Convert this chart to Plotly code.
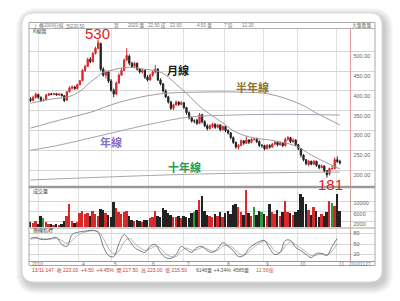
import plotly.graph_objects as go

W, H = 400, 301
def X(px): return px / W
def Y(py): return 1 - py / H

# ---------------- data ----------------
opens = [380,376,383,391,384,377,378,389,393,391,393,390,392,388,377,398,407,410,406,416,
         426,452,462,480,474,495,508,520,455,440,448,425,402,392,420,440,452,478,488,470,
         462,470,455,448,452,435,428,440,448,455,428,418,400,385,372,356,365,372,366,370,
         358,345,332,324,326,318,340,322,312,305,310,316,308,314,302,310,300,294,282,270,
         258,262,274,268,276,270,278,278,272,262,262,254,262,258,266,270,264,268,262,278,
         282,272,276,264,254,238,226,214,222,215,222,212,206,210,198,190,204,204,226,222]
highs = [384,388,396,393,386,381,392,395,394,395,394,394,393,389,400,412,414,413,418,428,
         455,466,484,486,498,512,530,522,460,452,450,430,406,424,444,458,482,508,492,474,
         474,472,458,456,454,440,444,452,466,458,432,420,404,388,375,368,376,374,374,372,
         360,348,336,328,330,344,342,326,316,316,320,318,317,316,312,312,303,296,285,272,
         266,278,276,286,278,280,282,282,275,266,264,266,265,268,273,272,272,270,282,286,
         284,280,278,266,256,240,228,226,224,226,224,214,214,212,200,206,212,232,234,226]
lows = [372,374,381,380,372,373,377,387,389,389,388,388,386,372,375,396,404,403,404,414,
        424,448,460,470,472,492,505,450,436,432,420,398,384,390,418,438,450,475,465,458,
        460,452,444,444,430,424,426,436,444,425,414,396,382,368,352,352,362,362,364,354,
        340,328,320,318,314,316,318,308,300,302,306,304,305,298,300,296,290,278,266,254,
        252,260,264,266,266,268,274,268,258,256,250,252,254,256,262,260,262,258,260,274,
        268,268,260,250,232,222,212,210,212,212,208,202,204,194,181,186,200,202,218,214]
closes = [376,384,392,384,375,377,390,393,391,393,390,392,388,376,398,408,410,406,416,426,
          452,462,480,474,495,508,522,455,440,448,425,402,392,420,440,452,478,490,470,462,
          470,455,448,452,435,428,440,448,455,428,418,400,385,372,356,365,372,366,370,358,
          345,332,324,324,318,340,322,312,305,312,316,308,314,302,310,300,294,282,270,258,
          262,274,268,276,270,278,278,272,262,262,254,262,258,266,270,264,268,262,278,282,
          272,276,264,254,238,226,216,222,215,222,212,206,210,198,188,204,204,226,222,218]
volumes = [2000,1800,2600,1500,4600,3600,2200,1500,1200,1000,1300,1100,1500,2700,4300,9300,2600,1600,2200,5600,
           6500,5300,5800,4300,6500,5200,4500,7300,7000,5800,5000,4200,10000,7500,6000,5200,6000,6400,4400,3000,
           2600,2800,2400,2200,3000,2800,3600,4000,6400,4600,4000,7500,6800,5500,5000,4200,4000,4600,3800,4400,
           4200,3600,5500,6200,6800,10800,12200,6500,5000,4300,4000,5200,4600,6000,4200,5800,6300,5400,8600,9000,
           8000,6000,4800,14500,5500,4500,7800,4800,6500,6000,5200,4500,9000,6000,5200,7000,4400,6200,10400,6000,
           5600,4800,6000,7000,13000,11700,9100,7000,5000,7800,6400,4000,5300,4600,6000,10400,9600,8400,13000,6400]

ma20_x = [0, 6, 11, 14, 19, 23, 26, 28, 31, 34, 38, 44, 49, 52, 56, 60, 66, 74, 79, 86, 92, 102, 108, 114, 119]
ma20 = [369, 377, 382, 384, 399, 422, 437, 447, 452, 457, 460, 455, 450, 440, 417, 394, 356, 319, 296, 281, 276, 261, 238, 218, 203]
ma120_x = [0, 11, 23, 34, 49, 65, 81, 92, 104, 110, 119]
ma120 = [306, 326, 346, 371, 392, 397, 397, 392, 366, 344, 314]
ma240_x = [0, 11, 23, 34, 46, 61, 77, 96, 119]
ma240 = [250, 263, 281, 298, 316, 334, 339, 341, 339]
ma10y_x = [0, 65, 119]
ma10y = [175, 190, 195]

kd_x = list(range(0, 120, 2))
k_vals = [66,69,63,63,66,69,49,43,77,83,86,88,89,83,43,17,14,51,77,60,
          40,31,26,43,49,26,11,9,20,43,34,26,40,43,31,26,37,54,43,31,
          14,17,37,49,57,60,37,20,26,60,60,40,31,20,11,23,23,17,43,66]
d_vals = [64,66,66,64,64,66,60,52,60,74,82,86,88,86,66,38,22,30,56,66,
          52,40,32,36,44,38,22,14,14,30,38,32,34,40,36,30,32,44,46,38,
          24,18,28,42,52,58,48,30,26,44,56,48,38,27,17,18,22,20,30,52]

price_ticks = [200, 250, 300, 350, 400, 450, 500]
vol_ticks = [2000, 6000, 10000]
kd_ticks = [20, 50, 80]
month_pos = [3, 18.5, 31, 45.5, 59, 74.5, 89.5, 102.5, 117.5]
x_label_pos = [-0.5, 18.5, 31, 45.5, 59, 74.5, 89.5, 102.5, 117.5]
x_labels = ["2010", "4", "5", "6", "7", "8", "9", "10", "11"]

peak_label, low_label = "530", "181"

# ---------------- styles ----------------
RED = "#d8282a"
BLK = "#222222"
GRN = "#2f9a3c"
idx = list(range(len(closes)))

vol_colors = [RED if c > o else (GRN if c == o else BLK) for o, c in zip(opens, closes)]

fig = go.Figure()
fig.add_trace(go.Candlestick(
    x=idx, open=opens, high=highs, low=lows, close=closes,
    increasing=dict(line=dict(color=RED, width=1), fillcolor=RED),
    decreasing=dict(line=dict(color=BLK, width=1), fillcolor=BLK),
    whiskerwidth=0, showlegend=False, hoverinfo="skip", xaxis="x", yaxis="y"))

for xs, ys, col in [(ma20_x, ma20, "#9a9a9a"), (ma120_x, ma120, "#a89a9a"),
                    (ma240_x, ma240, "#a8a0b4"), (ma10y_x, ma10y, "#a8a8a8")]:
    fig.add_trace(go.Scatter(x=xs, y=ys, mode="lines", line=dict(color=col, width=1, shape="spline"),
                             showlegend=False, hoverinfo="skip", xaxis="x", yaxis="y"))

fig.add_trace(go.Bar(x=idx, y=volumes, marker=dict(color=vol_colors, line=dict(width=0)),
                     width=0.72, showlegend=False, hoverinfo="skip", xaxis="x2", yaxis="y2"))

fig.add_trace(go.Scatter(x=kd_x, y=d_vals, mode="lines", line=dict(color="#a0a0a0", width=0.8, shape="spline"),
                         showlegend=False, hoverinfo="skip", xaxis="x3", yaxis="y3"))
fig.add_trace(go.Scatter(x=kd_x, y=k_vals, mode="lines", line=dict(color="#5a5a5a", width=0.8, shape="spline"),
                         showlegend=False, hoverinfo="skip", xaxis="x3", yaxis="y3"))

xcommon = dict(domain=[X(29), X(375)], range=[-0.58, 132.5], showticklabels=False,
               tickvals=month_pos, showgrid=True, gridcolor="#e0e0e0", gridwidth=1,
               zeroline=False, showline=False, ticks="", fixedrange=True)
tickfont = dict(family="Liberation Sans", size=5.5, color="#666")
ycommon = dict(side="right", anchor="free", position=X(350.5), showgrid=True, gridcolor="#d6d6d6",
               gridwidth=1, zeroline=False, showline=False, ticks="", tickfont=tickfont,
               ticklabelstandoff=2, fixedrange=True)

fig.update_layout(
    width=W, height=H, margin=dict(l=0, r=0, t=0, b=0),
    paper_bgcolor="white", plot_bgcolor="rgba(0,0,0,0)",
    showlegend=False, bargap=0,
    xaxis=dict(**xcommon, anchor="y", rangeslider=dict(visible=False)),
    xaxis2=dict(**xcommon, anchor="y2", matches="x"),
    xaxis3=dict(**xcommon, anchor="y3", matches="x"),
    yaxis=dict(**ycommon, domain=[Y(186), Y(28.5)], range=[159.7, 557.9],
               tickvals=price_ticks, tickformat=".2f", ticklabelshift=5),
    yaxis2=dict(**ycommon, domain=[Y(227), Y(188.5)], range=[0, 15000],
                tickvals=vol_ticks, tickformat="d", ticklabelshift=2),
    yaxis3=dict(**ycommon, domain=[Y(261.5), Y(228.5)], range=[0, 94.3],
                tickvals=kd_ticks, tickformat="d"),
)

# ---------------- card, shadow and frame ----------------
def rrect(x0, y0, x1, y1, r):
    def P(x, y): return f"{X(x):.5f},{Y(y):.5f}"
    return (f"M {P(x0+r,y0)} L {P(x1-r,y0)} Q {P(x1,y0)} {P(x1,y0+r)} "
            f"L {P(x1,y1-r)} Q {P(x1,y1)} {P(x1-r,y1)} L {P(x0+r,y1)} "
            f"Q {P(x0,y1)} {P(x0,y1-r)} L {P(x0,y0+r)} Q {P(x0,y0)} {P(x0+r,y0)} Z")

shapes = []
for k in range(1, 10):
    shapes.append(dict(type="path", xref="paper", yref="paper", layer="below",
                       path=rrect(22 - k + 3, 13 - k + 4, 382 + k + 2, 282 + k + 3, 12 + k),
                       fillcolor="rgba(0,0,0,0.022)", line=dict(width=0)))
shapes.append(dict(type="path", xref="paper", yref="paper", layer="below",
                   path=rrect(22, 13, 382, 282, 12), fillcolor="white",
                   line=dict(color="#d4d4d4", width=0.8)))

def hline(py, x0, x1, color, width):
    return dict(type="line", xref="paper", yref="paper", x0=X(x0), x1=X(x1), y0=Y(py), y1=Y(py),
                line=dict(color=color, width=width), layer="above")
def vline(px, y0, y1, color, width):
    return dict(type="line", xref="paper", yref="paper", x0=X(px), x1=X(px), y0=Y(y0), y1=Y(y1),
                line=dict(color=color, width=width), layer="above")

shapes += [
    dict(type="rect", xref="paper", yref="paper", x0=X(29), x1=X(375), y0=Y(265.5), y1=Y(22.5),
         line=dict(color="#a8a8a8", width=1), fillcolor="rgba(0,0,0,0)", layer="above"),
    hline(28.5, 29, 375, "#b0b0b0", 1),
    hline(187, 29, 375, "#9a9a9a", 2.5),
    hline(228, 29, 375, "#a0a0a0", 1),
    hline(261.5, 29, 375, "#9a9a9a", 1),
    vline(350.5, 28.5, 186, "#e29a9a", 1),
    vline(350.5, 188.5, 261.5, "#c8a0a0", 1),
]
fig.update_layout(shapes=shapes)

# ---------------- text ----------------
ann = []
def txt(px, py, s, size=5.5, color="#666", anchor="left", family="Liberation Sans, Noto Sans CJK TC"):
    ann.append(dict(xref="paper", yref="paper", x=X(px), y=Y(py), text=s, showarrow=False,
                    xanchor=anchor, yanchor="middle", font=dict(family=family, size=size, color=color)))

header = [(31, "上"), (36.5, "櫃"), (42, "2009日線"), (64, "到220.50"), (112, "買"),
          (126, "2020 量"), (146, "22.50 成"), (168, "22.00"), (195, "4.50 量"),
          (222, "7 錢"), (240, "12.20")]
for px, s in header:
    txt(px, 25.6, s, size=4.6, color="#777")
txt(373, 25.6, "大盤看盤", size=4.8, color="#666", anchor="right")
txt(31, 31.8, "K線圖", size=5, color="#444")
txt(31, 191.5, "成交量", size=5, color="#444")
txt(31, 230.5, "隨機指標", size=5, color="#444")

for pos, lab in zip(x_label_pos, x_labels):
    ann.append(dict(xref="x3", yref="paper", x=pos, y=Y(263.5), text=lab, showarrow=False,
                    xanchor="left", xshift=1, yanchor="middle",
                    font=dict(family="Liberation Sans", size=5, color="#777")))
txt(373, 264, "20101127", size=5, color="#777", anchor="right")

txt(30, 270, "13/11.147  收 223.00  +4.50  +4.45%  開 217.50  高 223.00  低 215.50", size=5, color="#c0403a")
txt(194, 270, "6148量 +4.34%", size=5, color="#555")
txt(231, 270, "4585量", size=5, color="#555")
txt(254, 270, "12.56億", size=5, color="#d0603a")

cjk = "Noto Sans CJK TC"
txt(97, 33.5, peak_label, size=15, color="#e0201c", anchor="center", family="Liberation Sans")
txt(330, 184, low_label, size=15, color="#e0201c", anchor="center", family="Liberation Sans")
txt(178, 70, "<b>月線</b>", size=11, color="#1a1a1a", anchor="center", family=cjk)
txt(252, 87, "<b>半年線</b>", size=11, color="#94702a", anchor="center", family=cjk)
txt(111, 141.5, "<b>年線</b>", size=11, color="#8a70c4", anchor="center", family=cjk)
txt(184, 167, "<b>十年線</b>", size=11, color="#2c9a4a", anchor="center", family=cjk)

fig.update_layout(annotations=ann)
fig.write_html("out.html")
